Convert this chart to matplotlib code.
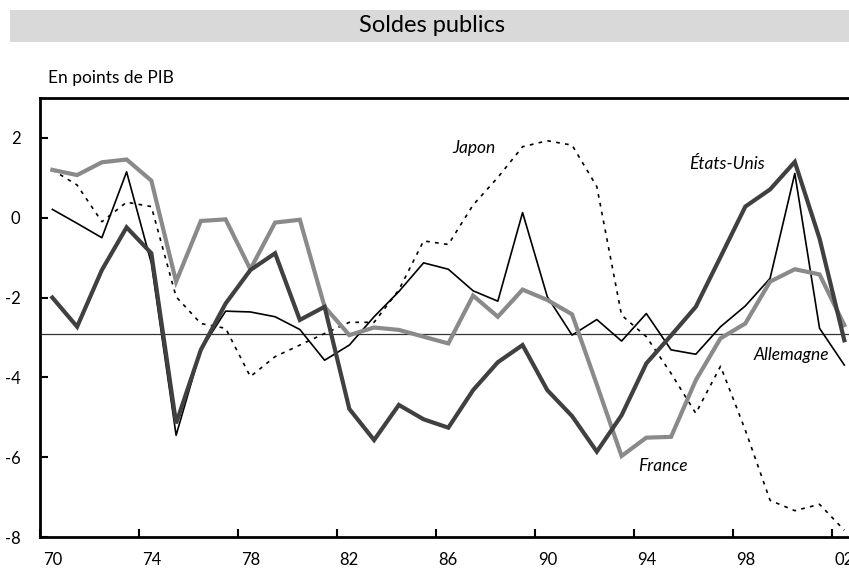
import numpy as np
import matplotlib
matplotlib.use('Agg')
import matplotlib.pyplot as plt
import matplotlib.patches as patches

plt.rcParams['font.family'] = ['Lato', 'DejaVu Sans']

years = np.arange(1970, 2003)

france = [1.20, 1.07, 1.39, 1.46, 0.93, -1.60, -0.08, -0.04, -1.29, -0.12,
          -0.05, -2.23, -2.94, -2.75, -2.81, -2.98, -3.15, -1.95, -2.48, -1.80,
          -2.06, -2.42, -4.18, -5.97, -5.51, -5.49, -4.07, -3.02, -2.65, -1.60,
          -1.29, -1.42, -2.69]
etats_unis = [-2.00, -2.73, -1.31, -0.24, -0.89, -5.15, -3.31, -2.15, -1.31, -0.89,
              -2.56, -2.23, -4.79, -5.57, -4.69, -5.05, -5.26, -4.32, -3.62, -3.19,
              -4.32, -4.97, -5.86, -4.95, -3.65, -2.95, -2.23, -0.98, 0.28, 0.71,
              1.40, -0.52, -3.07]
allemagne = [0.21, -0.14, -0.50, 1.15, -1.14, -5.45, -3.31, -2.34, -2.36, -2.48,
             -2.80, -3.57, -3.19, -2.48, -1.85, -1.13, -1.29, -1.83, -2.09, 0.13,
             -1.98, -2.94, -2.55, -3.09, -2.40, -3.31, -3.42, -2.73, -2.21, -1.52,
             1.11, -2.77, -3.69]
japon = [1.20, 0.82, -0.10, 0.39, 0.28, -1.98, -2.65, -2.77, -3.98, -3.48,
         -3.19, -2.90, -2.62, -2.62, -1.81, -0.58, -0.67, 0.32, 1.01, 1.78,
         1.93, 1.82, 0.78, -2.44, -2.98, -3.90, -4.90, -3.72, -5.32, -7.08,
         -7.34, -7.18, -7.83]

ref_level = -2.92
tick_years = np.arange(1970, 2003, 4)
tick_labels = ['%02d' % (y % 100) for y in tick_years]

fig = plt.figure(figsize=(8.49, 5.71), dpi=100)

# title band
fig.patches.append(patches.Rectangle((0.0112, 0.926), 0.99, 0.057,
                                     transform=fig.transFigure,
                                     facecolor='#d9d9d9', edgecolor='none'))
fig.text(0.509, 0.955, 'Soldes publics', ha='center', va='center', fontsize=17)
fig.text(0.056, 0.863, 'En points de PIB', ha='left', va='center', fontsize=12.5)

ax = fig.add_axes([0.0471, 0.0595, 0.9529, 0.7688])

ax.axhline(ref_level, color='#333333', linewidth=0.9, zorder=1)
ax.plot(years, japon, color='black', linewidth=1.2, linestyle=(0, (2.2, 3.2)), zorder=2)
ax.plot(years, allemagne, color='black', linewidth=1.2, zorder=3)
ax.plot(years, france, color='#8a8a8a', linewidth=3.0, solid_joinstyle='miter', zorder=4)
ax.plot(years, etats_unis, color='#404040', linewidth=3.0, solid_joinstyle='miter', zorder=5)

ax.text(1987.05, 1.75, 'Japon', style='italic', fontsize=12.5, ha='center', va='center')
ax.text(1997.27, 1.35, 'États-Unis', style='italic', fontsize=12.5, ha='center', va='center')
ax.text(1999.86, -3.44, 'Allemagne', style='italic', fontsize=12.5, ha='center', va='center')
ax.text(1994.69, -6.23, 'France', style='italic', fontsize=12.5, ha='center', va='center')

ax.set_xlim(1969.5, 2002.19)
ax.set_ylim(-8, 3)
ax.set_yticks([-8, -6, -4, -2, 0, 2])
ax.set_yticklabels(['-8', '-6', '-4', '-2', '0', '2'])

ax.set_xticks(tick_years - 0.5)
ax.set_xticklabels([''] * len(tick_years))
ax.set_xticks(tick_years, minor=True)
ax.set_xticklabels(tick_labels, minor=True)

ax.tick_params(axis='x', which='major', direction='in', length=6, width=1.5)
ax.tick_params(axis='x', which='minor', length=0, pad=11, labelsize=12)
ax.tick_params(axis='y', direction='in', length=6, width=1.5, pad=14, labelsize=12)

for s in ['left', 'bottom', 'top']:
    ax.spines[s].set_linewidth(2)
ax.spines['right'].set_visible(False)

plt.savefig('out.png', dpi=100)
